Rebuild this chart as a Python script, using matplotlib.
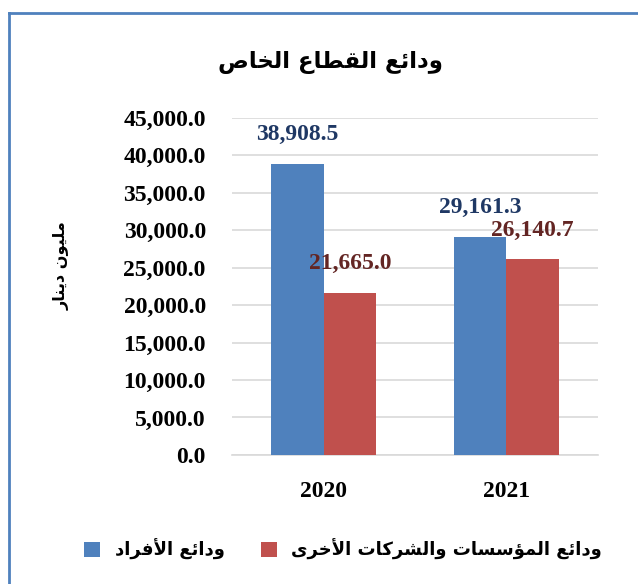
import matplotlib
matplotlib.use("Agg")
import matplotlib.pyplot as plt
from matplotlib.lines import Line2D

# == Datos ==
years = ["2020", "2021"]
individuals = [38908.5, 29161.3]
companies = [21665.0, 26140.7]
series_names = ["ودائع الأفراد", "ودائع المؤسسات والشركات الأخرى"]
title_text = "ودائع القطاع الخاص"
ylabel_text = "مليون دينار"

# == Conformado del árabe (matplotlib no hace shaping ni bidi) ==
# formas: aislada, final, inicial, medial
FORMS = {
    "ا": ("\uFE8D", "\uFE8E", None, None),
    "أ": ("\uFE83", "\uFE84", None, None),
    "د": ("\uFEA9", "\uFEAA", None, None),
    "ر": ("\uFEAD", "\uFEAE", None, None),
    "و": ("\uFEED", "\uFEEE", None, None),
    "ؤ": ("\uFE85", "\uFE86", None, None),
    "ى": ("\uFEEF", "\uFEF0", None, None),
    "ئ": ("\uFE89", "\uFE8A", "\uFE8B", "\uFE8C"),
    "ع": ("\uFEC9", "\uFECA", "\uFECB", "\uFECC"),
    "ل": ("\uFEDD", "\uFEDE", "\uFEDF", "\uFEE0"),
    "ق": ("\uFED5", "\uFED6", "\uFED7", "\uFED8"),
    "ط": ("\uFEC1", "\uFEC2", "\uFEC3", "\uFEC4"),
    "خ": ("\uFEA5", "\uFEA6", "\uFEA7", "\uFEA8"),
    "ص": ("\uFEB9", "\uFEBA", "\uFEBB", "\uFEBC"),
    "م": ("\uFEE1", "\uFEE2", "\uFEE3", "\uFEE4"),
    "ي": ("\uFEF1", "\uFEF2", "\uFEF3", "\uFEF4"),
    "ن": ("\uFEE5", "\uFEE6", "\uFEE7", "\uFEE8"),
    "س": ("\uFEB1", "\uFEB2", "\uFEB3", "\uFEB4"),
    "ت": ("\uFE95", "\uFE96", "\uFE97", "\uFE98"),
    "ش": ("\uFEB5", "\uFEB6", "\uFEB7", "\uFEB8"),
    "ك": ("\uFED9", "\uFEDA", "\uFEDB", "\uFEDC"),
    "ف": ("\uFED1", "\uFED2", "\uFED3", "\uFED4"),
}
LAM_ALEF = {"ا": ("\uFEFB", "\uFEFC"), "أ": ("\uFEF7", "\uFEF8")}


def _dual(c):
    return c in FORMS and FORMS[c][2] is not None


def shape(text):
    out = []
    i = 0
    while i < len(text):
        c = text[i]
        if c not in FORMS:
            out.append(c)
            i += 1
            continue
        prev = text[i - 1] if i > 0 else ""
        joins_prev = _dual(prev)
        if c == "ل" and i + 1 < len(text) and text[i + 1] in LAM_ALEF:
            out.append(LAM_ALEF[text[i + 1]][1 if joins_prev else 0])
            i += 2
            continue
        nxt = text[i + 1] if i + 1 < len(text) else ""
        joins_next = _dual(c) and nxt in FORMS
        iso, fin, ini, med = FORMS[c]
        if joins_prev and joins_next:
            out.append(med)
        elif joins_prev:
            out.append(fin)
        elif joins_next:
            out.append(ini)
        else:
            out.append(iso)
        i += 1
    return "".join(out)[::-1]  # orden visual de derecha a izquierda


AR_FONT = ["DejaVu Sans"]
NUM_FONT = ["Liberation Serif", "DejaVu Serif"]

blue, red = "#4F81BD", "#C0504D"
blue_lbl, red_lbl = "#1F3864", "#632523"
grid_c = "#D9D9D9"

fig = plt.figure(figsize=(6.38, 5.84), dpi=100)
ax = fig.add_axes([0.364, 0.221, 0.573, 0.577])

x = range(len(years))
w = 0.286
b1 = ax.bar([i - w / 2 for i in x], individuals, width=w, color=blue, zorder=3)
b2 = ax.bar([i + w / 2 for i in x], companies, width=w, color=red, zorder=3)

ax.set_xlim(-0.5, 1.5)
ax.set_ylim(0, 45000)
ax.set_yticks(range(0, 45001, 5000))
ax.set_yticklabels([f"{v:,.1f}" for v in range(0, 45001, 5000)],
                   fontfamily=NUM_FONT, fontweight="bold", fontsize=17)
ax.set_xticks(list(x))
ax.set_xticklabels(years, fontfamily=NUM_FONT, fontweight="bold", fontsize=17)
ax.tick_params(axis="both", length=0)
ax.tick_params(axis="y", pad=19)
ax.tick_params(axis="x", pad=19)
ax.grid(axis="y", color=grid_c, lw=1.2, zorder=0)
for s in ["top", "right", "left"]:
    ax.spines[s].set_visible(False)
ax.spines["bottom"].set_color(grid_c)
ax.spines["bottom"].set_linewidth(1.2)

# Etiquetas de valor, centradas unos 29 px por encima de cada barra
for bars, vals, col in [(b1, individuals, blue_lbl), (b2, companies, red_lbl)]:
    for rect, v in zip(bars, vals):
        ax.annotate(f"{v:,.1f}", (rect.get_x() + rect.get_width() / 2, v),
                    xytext=(0, 21), textcoords="offset points",
                    ha="center", va="center", color=col, fontsize=17,
                    fontweight="bold", fontfamily=NUM_FONT)

fig.text(331 / 638, 1 - 62 / 584, shape(title_text), ha="center", va="center",
         fontsize=16.5, fontweight="bold", family=AR_FONT)
fig.text(62 / 638, 1 - 266 / 584, shape(ylabel_text), ha="center", va="center",
         rotation=90, fontsize=11.5, fontweight="bold", family=AR_FONT)

leg = fig.legend([b1, b2], [shape(n) for n in series_names], loc="center",
                 bbox_to_anchor=(343 / 638, 1 - 549 / 584), ncol=2, frameon=False,
                 handlelength=0.9, handleheight=0.9, columnspacing=2.0,
                 prop={"family": AR_FONT, "weight": "bold", "size": 13})

# Borde del gráfico (arriba e izquierda visibles)
fig.add_artist(Line2D([9 / 638, 1], [1 - 13 / 584] * 2, color="#4F81BD", lw=2,
                      transform=fig.transFigure))
fig.add_artist(Line2D([9 / 638] * 2, [0, 1 - 13 / 584], color="#4F81BD", lw=2,
                      transform=fig.transFigure))

fig.savefig("out.png", dpi=100)
